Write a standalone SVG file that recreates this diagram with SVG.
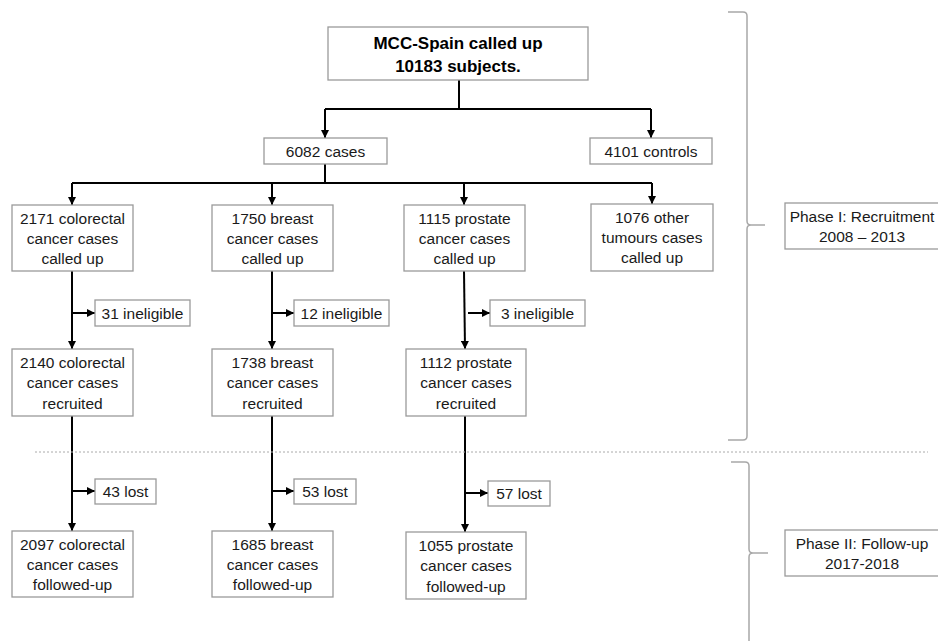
<svg xmlns="http://www.w3.org/2000/svg" width="938" height="641" viewBox="0 0 938 641">
<style>
.box{fill:#fff;stroke:#9a9a9a;stroke-width:1.3}
.t{font-family:"Liberation Sans",Arial,sans-serif;font-size:15.5px;fill:#1a1a1a;text-anchor:middle}
.tb{font-family:"Liberation Sans",Arial,sans-serif;font-size:17px;font-weight:bold;fill:#000;text-anchor:middle}
.c{fill:none;stroke:#000;stroke-width:2}
.br{fill:none;stroke:#a8a8a8;stroke-width:1.5}
</style>
<defs>
<marker id="ah" viewBox="0 0 8 8" refX="8" refY="4" markerWidth="4" markerHeight="4" markerUnits="strokeWidth" orient="auto">
<path d="M0,0 L8,4 L0,8 z" fill="#000"/>
</marker>
</defs>
<rect width="938" height="641" fill="#fff"/>
<g id="connectors">
<path class="c" d="M459,80 V109"/>
<path class="c" d="M325,109 H651"/>
<path class="c" d="M325,109 V138" marker-end="url(#ah)"/>
<path class="c" d="M651,109 V138" marker-end="url(#ah)"/>
<path class="c" d="M325,164 V183"/>
<path class="c" d="M72,183 H652"/>
<path class="c" d="M72,183 V205" marker-end="url(#ah)"/>
<path class="c" d="M272,183 V205" marker-end="url(#ah)"/>
<path class="c" d="M464,183 V205" marker-end="url(#ah)"/>
<path class="c" d="M652,183 V204" marker-end="url(#ah)"/>
<path class="c" d="M72,271 V349" marker-end="url(#ah)"/>
<path class="c" d="M72,313 H95" marker-end="url(#ah)"/>
<path class="c" d="M272,271 V349" marker-end="url(#ah)"/>
<path class="c" d="M272,313 H294" marker-end="url(#ah)"/>
<path class="c" d="M464,271 L465,349" marker-end="url(#ah)"/>
<path class="c" d="M468,313 H490" marker-end="url(#ah)"/>
<path class="c" d="M72,416 V531" marker-end="url(#ah)"/>
<path class="c" d="M72,491 H95" marker-end="url(#ah)"/>
<path class="c" d="M272,416 V531" marker-end="url(#ah)"/>
<path class="c" d="M272,491 H294" marker-end="url(#ah)"/>
<path class="c" d="M465,416 V532" marker-end="url(#ah)"/>
<path class="c" d="M465,493 H488" marker-end="url(#ah)"/>
</g>
<g id="separator">
<path d="M35,452 H928" stroke="#aaa" stroke-width="1" stroke-dasharray="2 2" fill="none"/>
</g>
<g id="brackets">
<path class="br" d="M728,12 L743,12 Q747,12 747,16 L747,221 Q747,225 751,225 L765,225 L751,225 Q747,225 747,229 L747,436 Q747,440 743,440 L728,440"/>
<path class="br" d="M731,462 L745,462 Q749,462 749,466 L749,549 Q749,553 753,553 L768,553 L753,553 Q749,553 749,557 L749,641"/>
</g>
<g id="n_top">
<rect class="box" x="328" y="27" width="260" height="53"/>
<text class="tb" x="458" y="49">MCC-Spain called up</text>
<text class="tb" x="458" y="72">10183 subjects.</text>
</g>
<g id="n_cases">
<rect class="box" x="264" y="138" width="123" height="26"/>
<text class="t" x="325.5" y="156.5">6082 cases</text>
</g>
<g id="n_controls">
<rect class="box" x="590" y="138" width="122" height="26"/>
<text class="t" x="651" y="156.5">4101 controls</text>
</g>
<g id="n_crc_called">
<rect class="box" x="12" y="205" width="121" height="66"/>
<text class="t" x="72.5" y="223.5">2171 colorectal</text>
<text class="t" x="72.5" y="243.5">cancer cases</text>
<text class="t" x="72.5" y="264">called up</text>
</g>
<g id="n_br_called">
<rect class="box" x="212" y="205" width="121" height="66"/>
<text class="t" x="272.5" y="223.5">1750 breast</text>
<text class="t" x="272.5" y="243.5">cancer cases</text>
<text class="t" x="272.5" y="264">called up</text>
</g>
<g id="n_pr_called">
<rect class="box" x="404" y="205" width="121" height="66"/>
<text class="t" x="464.5" y="223.5">1115 prostate</text>
<text class="t" x="464.5" y="243.5">cancer cases</text>
<text class="t" x="464.5" y="264">called up</text>
</g>
<g id="n_other_called">
<rect class="box" x="591" y="204" width="122" height="67"/>
<text class="t" x="652" y="222.5">1076 other</text>
<text class="t" x="652" y="242.5">tumours cases</text>
<text class="t" x="652" y="263">called up</text>
</g>
<g id="n_crc_inel">
<rect class="box" x="95" y="300" width="95" height="26"/>
<text class="t" x="142.5" y="318.5">31 ineligible</text>
</g>
<g id="n_br_inel">
<rect class="box" x="294" y="300" width="95" height="26"/>
<text class="t" x="341.5" y="318.5">12 ineligible</text>
</g>
<g id="n_pr_inel">
<rect class="box" x="490" y="300" width="95" height="26"/>
<text class="t" x="537.5" y="318.5">3 ineligible</text>
</g>
<g id="n_crc_rec">
<rect class="box" x="12" y="349" width="121" height="67"/>
<text class="t" x="72.5" y="367.5">2140 colorectal</text>
<text class="t" x="72.5" y="388">cancer cases</text>
<text class="t" x="72.5" y="408.5">recruited</text>
</g>
<g id="n_br_rec">
<rect class="box" x="212" y="349" width="121" height="67"/>
<text class="t" x="272.5" y="367.5">1738 breast</text>
<text class="t" x="272.5" y="388">cancer cases</text>
<text class="t" x="272.5" y="408.5">recruited</text>
</g>
<g id="n_pr_rec">
<rect class="box" x="406" y="349" width="120" height="67"/>
<text class="t" x="466" y="367.5">1112 prostate</text>
<text class="t" x="466" y="388">cancer cases</text>
<text class="t" x="466" y="408.5">recruited</text>
</g>
<g id="n_crc_lost">
<rect class="box" x="95" y="479" width="61" height="25"/>
<text class="t" x="125.5" y="497">43 lost</text>
</g>
<g id="n_br_lost">
<rect class="box" x="294" y="479" width="62" height="25"/>
<text class="t" x="325" y="497">53 lost</text>
</g>
<g id="n_pr_lost">
<rect class="box" x="488" y="481" width="62" height="25"/>
<text class="t" x="519" y="499">57 lost</text>
</g>
<g id="n_crc_fu">
<rect class="box" x="12" y="531" width="121" height="66"/>
<text class="t" x="72.5" y="549.5">2097 colorectal</text>
<text class="t" x="72.5" y="569.5">cancer cases</text>
<text class="t" x="72.5" y="590">followed-up</text>
</g>
<g id="n_br_fu">
<rect class="box" x="212" y="531" width="121" height="66"/>
<text class="t" x="272.5" y="549.5">1685 breast</text>
<text class="t" x="272.5" y="569.5">cancer cases</text>
<text class="t" x="272.5" y="590">followed-up</text>
</g>
<g id="n_pr_fu">
<rect class="box" x="406" y="532" width="120" height="67"/>
<text class="t" x="466" y="551">1055 prostate</text>
<text class="t" x="466" y="571">cancer cases</text>
<text class="t" x="466" y="591.5">followed-up</text>
</g>
<g id="n_phase1">
<rect class="box" x="785" y="203" width="160" height="46"/>
<text class="t" x="862" y="222">Phase I: Recruitment</text>
<text class="t" x="862" y="241.5">2008 – 2013</text>
</g>
<g id="n_phase2">
<rect class="box" x="785" y="530" width="160" height="46"/>
<text class="t" x="862" y="548.5">Phase II: Follow-up</text>
<text class="t" x="862" y="568.5">2017-2018</text>
</g>
</svg>
